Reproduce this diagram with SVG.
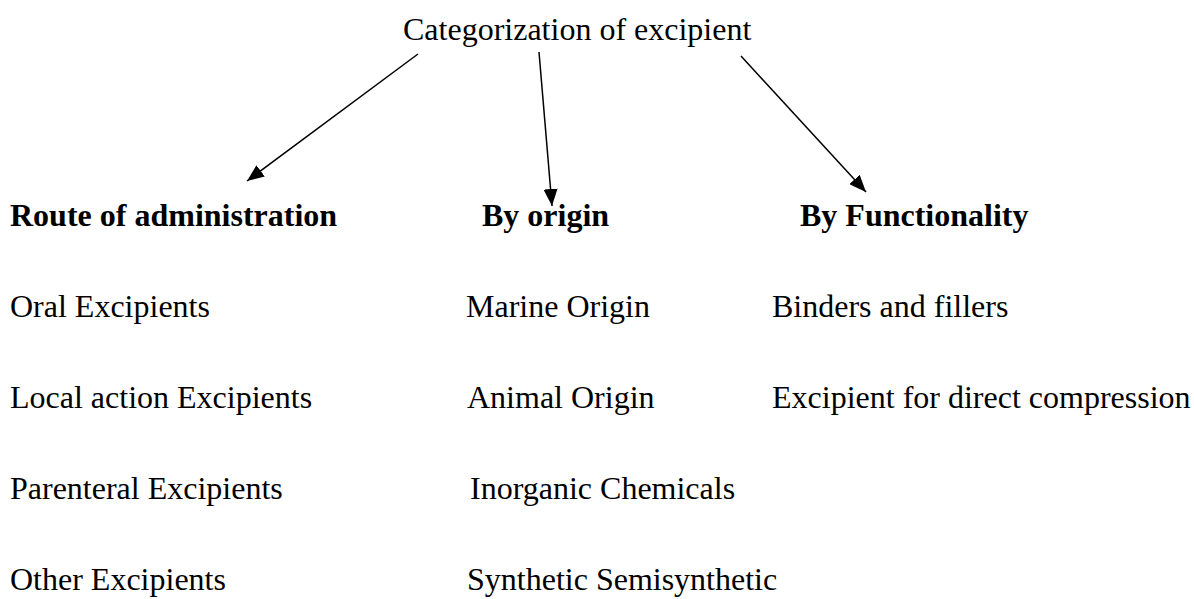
<svg xmlns="http://www.w3.org/2000/svg" width="1194" height="599" viewBox="0 0 1194 599">
<style>
text{font-family:"Liberation Serif","Times New Roman",serif;font-size:32px;fill:#000}
.b{font-weight:bold}
.conn line{stroke:#000;stroke-width:1.5;fill:none}
</style>
<defs>
<marker id="ah" markerUnits="userSpaceOnUse" markerWidth="18" markerHeight="14" refX="17" refY="7" orient="auto">
<path d="M0,0 L17,7 L0,14 z" fill="#000"/>
</marker>
</defs>
<rect width="1194" height="599" fill="#fff"/>
<g id="root"><text x="403" y="40">Categorization of excipient</text></g>
<g id="connectors" class="conn">
<line x1="418" y1="54" x2="247" y2="181" marker-end="url(#ah)"/>
<line x1="539" y1="52" x2="552" y2="206" marker-end="url(#ah)"/>
<line x1="741" y1="56" x2="866" y2="192" marker-end="url(#ah)"/>
</g>
<g id="route">
<text class="b" x="10" y="226">Route of administration</text>
<text x="10" y="317">Oral Excipients</text>
<text x="10" y="408">Local action Excipients</text>
<text x="10" y="499">Parenteral Excipients</text>
<text x="10" y="590">Other Excipients</text>
</g>
<g id="origin">
<text class="b" x="482" y="226">By origin</text>
<text x="466" y="317">Marine Origin</text>
<text x="467" y="408">Animal Origin</text>
<text x="470" y="499">Inorganic Chemicals</text>
<text x="467" y="590">Synthetic Semisynthetic</text>
</g>
<g id="functionality">
<text class="b" x="800" y="226">By Functionality</text>
<text x="772" y="317">Binders and fillers</text>
<text x="772" y="408">Excipient for direct compression</text>
</g>
</svg>
